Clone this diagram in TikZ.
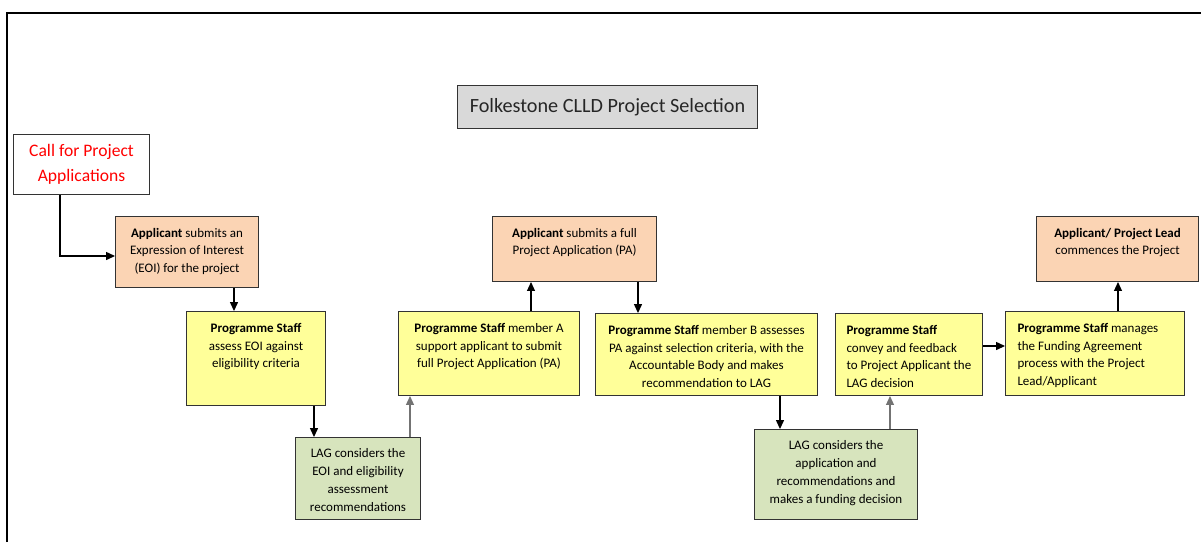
\documentclass[tikz,border=0pt]{standalone}
\usepackage{fontspec}
\setmainfont{Carlito}
\usetikzlibrary{arrows.meta}
\definecolor{applicant}{HTML}{FBD4B4}
\definecolor{staff}{HTML}{FFFF99}
\definecolor{lag}{HTML}{D7E4BD}
\definecolor{heading}{HTML}{D9D9D9}
\definecolor{callred}{HTML}{FF0000}
\newcommand{\boxfont}{\fontsize{7.4}{10.2}\selectfont}
% text of a stage box: width, height, alignment, lines
\newcommand{\stagetext}[4]{\parbox[c][#2][t]{#1}{#3\vspace*{6.5pt}#4}}

\begin{document}
\begin{tikzpicture}[x=0.02cm, y=-0.02cm,
	stage/.style={draw=black!80, line width=0.6pt, anchor=north west, inner sep=0pt, font=\boxfont},
	flow/.style={draw=black, line width=0.6pt, -{Triangle[length=5pt,width=4.5pt]}},
	flowgray/.style={flow, draw=black!55}]
	\useasboundingbox (0,0) rectangle (1201,542);
	\draw[line width=1.1pt] (7,542) -- (7,13) -- (1201,13);

	\node[draw=black!80, line width=0.6pt, fill=heading, anchor=north west, minimum width=6cm, minimum height=0.86cm, inner sep=0pt, font=\fontsize{11.5}{14}\selectfont, text=black!85] (title) at (457,85) {Folkestone CLLD Project Selection};
	\node[draw=black!80, line width=0.6pt, fill=white, anchor=north west, minimum width=2.72cm, minimum height=1.2cm, inner sep=0pt, align=center, font=\fontsize{10}{14.2}\selectfont, text=callred] (call) at (13,134) {Call for Project\\Applications};

	% applicant boxes
	\node[stage, fill=applicant] (eoi) at (115,216) {\stagetext{2.86cm}{1.42cm}{\centering}{\textbf{Applicant} submits an\\Expression of Interest\\(EOI) for the project}};
	\node[stage, fill=applicant] (pa) at (492,216) {\stagetext{3.28cm}{1.30cm}{\centering}{\textbf{Applicant} submits a full\\Project Application (PA)}};
	\node[stage, fill=applicant] (lead) at (1036,216) {\stagetext{3.24cm}{1.30cm}{\centering}{\textbf{Applicant/ Project Lead}\\commences the Project}};

	% programme staff boxes
	\node[stage, fill=staff] (assess) at (186,311) {\stagetext{2.78cm}{1.88cm}{\centering}{\textbf{Programme Staff}\\assess EOI against\\eligibility criteria}};
	\node[stage, fill=staff] (psA) at (398,311) {\stagetext{3.62cm}{1.68cm}{\centering}{\textbf{Programme Staff} member A\\support applicant to submit\\full Project Application (PA)}};
	\node[stage, fill=staff] (psB) at (595,313) {\stagetext{4.44cm}{1.64cm}{\centering}{\textbf{Programme Staff} member B assesses\\PA against selection criteria, with the\\Accountable Body and makes\\recommendation to LAG}};
	\node[stage, fill=staff] (convey) at (835,313) {\stagetext{2.94cm}{1.64cm}{\raggedright\leftskip=0.22cm}{\textbf{Programme Staff}\\convey and feedback\\to Project Applicant the\\LAG decision}};
	\node[stage, fill=staff] (manage) at (1005,311) {\stagetext{3.58cm}{1.68cm}{\raggedright\leftskip=0.24cm}{\textbf{Programme Staff} manages\\the Funding Agreement\\process with the Project\\Lead/Applicant}};

	% LAG boxes
	\node[stage, fill=lag] (lagA) at (295,437) {\stagetext{2.5cm}{1.64cm}{\centering}{LAG considers the\\EOI and eligibility\\assessment\\recommendations}};
	\node[stage, fill=lag] (lagB) at (754,429) {\stagetext{3.26cm}{1.8cm}{\centering}{LAG considers the\\application and\\recommendations and\\makes a funding decision}};

	\draw[flow] (call.south -| 60,0) |- (eoi.west |- 0,256);
	\draw[flow] (eoi.south -| 234,0) -- (assess.north -| 234,0);
	\draw[flow] (assess.south -| 314,0) -- (lagA.north -| 314,0);
	\draw[flowgray] (lagA.north -| 410,0) -- (psA.south -| 410,0);
	\draw[flow] (psA.north -| 531,0) -- (pa.south -| 531,0);
	\draw[flow] (pa.south -| 638,0) -- (psB.north -| 638,0);
	\draw[flow] (psB.south -| 780,0) -- (lagB.north -| 780,0);
	\draw[flowgray] (lagB.north -| 890,0) -- (convey.south -| 890,0);
	\draw[flow] (convey.east |- 0,346) -- (manage.west |- 0,346);
	\draw[flow] (manage.north -| 1118,0) -- (lead.south -| 1118,0);
\end{tikzpicture}
\end{document}
